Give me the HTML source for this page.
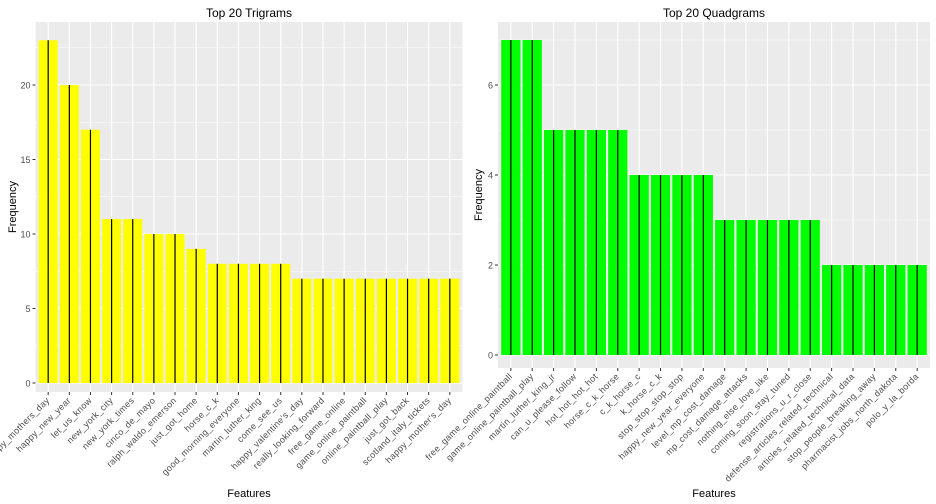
<!DOCTYPE html>
<html><head><meta charset="utf-8"><style>
body{margin:0;background:#fff;}
svg{display:block;font-family:"Liberation Sans",Arial,sans-serif;}
</style></head><body>
<svg id="chart" width="936" height="504"></svg>
<script>
const triCats=["happy_mothers_day","happy_new_year","let_us_know","new_york_city","new_york_times","cinco_de_mayo","ralph_waldo_emerson","just_got_home","horse_c_k","good_morning_everyone","martin_luther_king","come_see_us","happy_valentine's_day","really_looking_forward","free_game_online","game_online_paintball","online_paintball_play","just_got_back","scotland_italy_tickets","happy_mother's_day"];
const triVals=[23,20,17,11,11,10,10,9,8,8,8,8,7,7,7,7,7,7,7,7];
const triTicks=[0,5,10,15,20];
const quadCats=["free_game_online_paintball","game_online_paintball_play","martin_luther_king_jr","can_u_please_follow","hot_hot_hot_hot","horse_c_k_horse","c_k_horse_c","k_horse_c_k","stop_stop_stop_stop","happy_new_year_everyone","level_mp_cost_damage","mp_cost_damage_attacks","nothing_else_love_like","coming_soon_stay_tuned","registrations_u_r_close","defense_articles_related_technical","articles_related_technical_data","stop_people_breaking_away","pharmacist_jobs_north_dakota","polo_y_la_borda"];
const quadVals=[7,7,5,5,5,5,4,4,4,4,3,3,3,3,3,2,2,2,2,2];
const quadTicks=[0,2,4,6];

const NS="http://www.w3.org/2000/svg";
const svg=document.getElementById('chart');
function mk(tag,attrs,parent,text){const e=document.createElementNS(NS,tag);for(const k in attrs)e.setAttribute(k,attrs[k]);if(text!=null)e.textContent=text;(parent||svg).appendChild(e);return e;}

function panel(o){
  const g=mk('g',{});
  
  
  const {x0,x1,y0,y1,zeroY,ymax,cats,vals,ticks,minor,color}=o;
  const n=cats.length;
  const unit=(x1-x0)/(n+0.2);
  const xs=i=>x0+unit*(0.6+i);
  const ys=v=>zeroY-(zeroY-o.topValY)*v/ymax;
  const bg=mk('rect',{x:x0,y:y0,width:x1-x0,height:y1-y0,fill:'#ebebeb'},g);
  
  
  minor.forEach(v=>{const y=ys(v);if(y>y0&&y<y1)mk('line',{x1:x0,x2:x1,y1:y,y2:y,stroke:'#fff','stroke-width':0.5},g);});
  ticks.forEach(v=>{const y=ys(v);mk('line',{x1:x0,x2:x1,y1:y,y2:y,stroke:'#fff','stroke-width':1.1},g);
    mk('line',{x1:x0-3,x2:x0,y1:y,y2:y,stroke:'#333'},g);
    const t=mk('text',{x:x0-5,y:y+3.5,'text-anchor':'end','font-size':9,fill:'#4d4d4d'},g,String(v));
    
    
  });
  cats.forEach((c,i)=>{const x=xs(i);mk('line',{x1:x,x2:x,y1:y0,y2:y1,stroke:'#fff','stroke-width':1.1},g);});
  cats.forEach((c,i)=>{
    const x=xs(i),bw=unit*0.9,y=ys(vals[i]);
    const r=mk('rect',{x:x-bw/2,y:y,width:bw,height:zeroY-y,fill:color},g);
    
    
    mk('line',{x1:x,x2:x,y1:y,y2:zeroY,stroke:'#000','stroke-width':1.2},g);
    mk('line',{x1:x,x2:x,y1:y1,y2:y1+3,stroke:'#333'},g);
    const t=mk('text',{x:x+2,y:y1+9,'text-anchor':'end','font-size':9,'letter-spacing':0.3,fill:'#4d4d4d',transform:`rotate(-45 ${x+2} ${y1+9})`},g,c);
    
    
  });
  const tt=mk('text',{x:(x0+x1)/2,y:17,'text-anchor':'middle','font-size':12,fill:'#000'},g,o.title);
  
  
  const xt=mk('text',{x:(x0+x1)/2,y:497,'text-anchor':'middle','font-size':11,fill:'#000'},g,'Features');
  
  
  const cy=(y0+y1)/2, cx=o.yTitleX;
  const yt=mk('text',{x:cx,y:cy,'text-anchor':'middle','font-size':11,fill:'#000',transform:`rotate(-90 ${cx} ${cy})`},g,'Frequency');
  
  
}
panel({name:'trigram-panel',title:'Top 20 Trigrams',x0:35.5,x1:462.5,y0:22,y1:392,zeroY:383,topValY:85,ymax:20,cats:triCats,vals:triVals,ticks:triTicks,minor:[2.5,7.5,12.5,17.5,22.5],color:'#ffff00',yTitleX:16});
panel({name:'quadgram-panel',title:'Top 20 Quadgrams',x0:498,x1:930,y0:22,y1:368,zeroY:355,topValY:85,ymax:6,cats:quadCats,vals:quadVals,ticks:quadTicks,minor:[1,3,5,7],color:'#00ff00',yTitleX:482});
</script>
</body></html>
